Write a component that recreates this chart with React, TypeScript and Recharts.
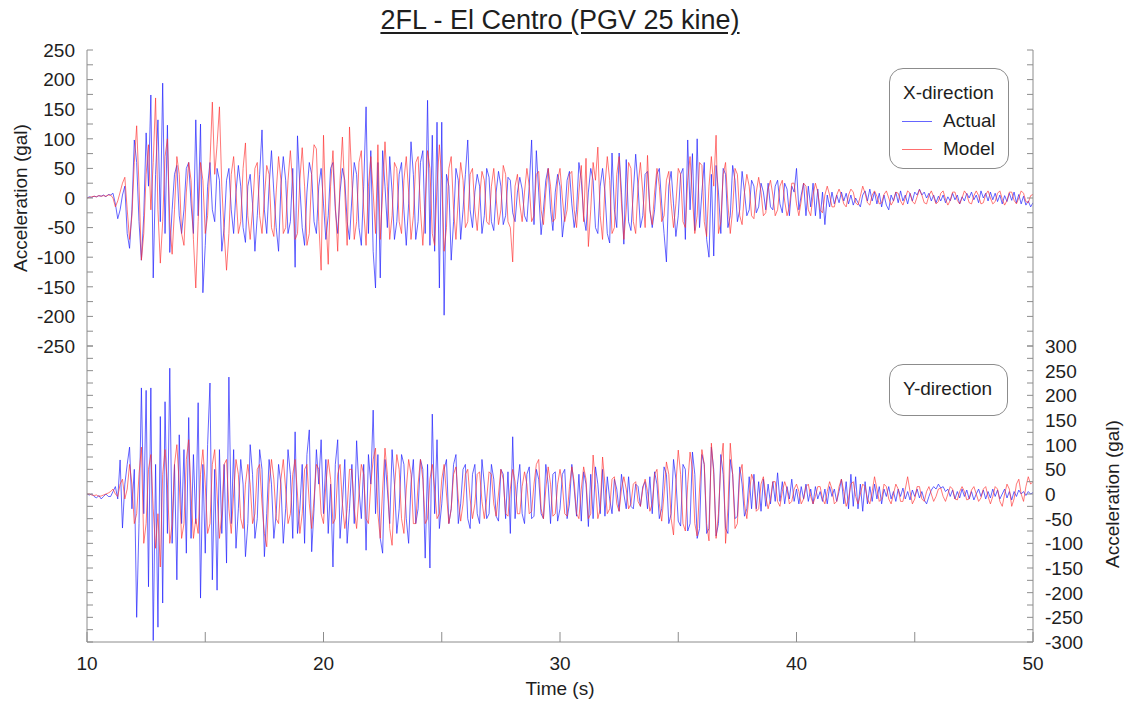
import { LineChart, Line, XAxis, YAxis, Legend } from 'recharts';

// sampled every 0.1 s from 10.0 s to 50.0 s, values in gal
const T_START = 10;
const T_STEP = 0.1;

const xActual = [
  0, 2, 1, 3, 2, 4, 3, 5, 2, 6,
  5, 8, -10, -35, -20, 5, 20, -60, -85, -20,
  98, 60, -40, -105, -30, 110, 20, 174, -135, 40,
  132, -40, 194, -60, 123, -92, -20, 40, 55, -30,
  -60, -20, 50, 60, -10, -60, 132, -30, 125, -160,
  -80, 20, 60, -20, -40, 50, 30, -90, -50, 30,
  50, -20, -60, 10, 55, 20, -50, -75, 20, 40,
  -10, -90, -30, 40, 115, -20, -60, 20, 80, 10,
  -50, -90, 20, 70, 30, -60, -40, 50, -117, 105,
  20, -50, -80, 10, 60, 40, -40, -60, 20, 50,
  -10, -70, -30, 50, 60, -20, -60, 10, 50, 30,
  -40, -70, 0, 60, 40, -50, -80, 20, 154, -60,
  80, -90, -152, 60, -135, 80, 20, -50, 70, 10,
  -70, -40, 40, 60, -20, -80, -10, 95, 40, -70,
  -40, 60, 80, -60, 165, -80, 106, -90, 128, -152,
  128, -198, 40, 20, -105, -40, 50, 30, -70, -20,
  40, 98, -20, -50, 10, 40, 20, -60, -30, 50,
  35, -40, -55, 10, 45, 20, -45, -30, 35, 30,
  -25, -40, 10, 35, 15, -30, -40, 20, 98, -45,
  80, 10, -62, -20, 30, 50, -20, -55, 10, 40,
  20, -66, -30, 30, 45, -10, -50, -20, 60, 30,
  -30, -55, 10, 50, 30, -50, -60, 20, 50, 10,
  -60, -76, 76, -20, -50, 76, 10, -78, 65, -40,
  -55, 10, 74, 20, -50, -30, 40, 45, -20, -50,
  -20, 40, 50, -10, -60, -108, 20, 45, -10, -65,
  -30, 40, 50, -70, 98, -20, 75, -55, 100, -50,
  10, 60, -70, -100, 40, -98, 55, 10, -60, 50,
  40, -50, -30, 55, 30, -40, -20, 45, 10, -30,
  -20, 30, 20, -25, -15, 25, 10, -20, 25, -15,
  -20, 20, 30, -10, -25, 25, 15, -30, 20, 10,
  50, -20, 5, 25, -30, 20, -15, 25, -30, 15,
  -35, 10, -45, 5, -15, 10, -10, 5, -8, 10,
  -5, 8, -10, 5, -12, 0, -8, -15, 5, 12,
  -5, 15, -5, 10, -10, 8, -15, 5, -12, -20,
  5, -5, 10, -8, 12, -5, 5, -10, 8, -5,
  10, 5, 15, 5, 10, 0, 8, -5, 5, -8,
  3, -5, 5, -8, 2, -5, 8, -3, 5, -10,
  2, -5, 8, 0, 10, -3, 5, -8, 12, 0,
  8, -5, 10, -3, 8, -6, 5, -10, 4, -6,
  8, -4, 10, -8, 6, -10, 3, -12, -5, -15,
  -8,
];

const xModel = [
  0, 1, 2, 3, 2, 4, 3, 4, 3, 5,
  5, 0, -15, -5, 10, 25, 35, -20, -70, -30,
  60, 122, 20, -105, -60, 40, 90, -20, 60, 169,
  -20, -110, -40, 70, 100, -40, -95, -20, 70, 40,
  -60, -80, 10, 60, 30, -70, -152, -40, 60, 30,
  -60, -30, 60, 162, 40, 90, 154, 20, -60, -122,
  -60, 40, 70, 10, -60, -40, 50, 93, -30, -70,
  -20, 50, 60, -30, -60, 0, 55, 40, -50, -65,
  10, 70, 30, -60, -50, 30, 80, 20, -70, -60,
  30, 85, 20, -80, -60, 40, 90, 83, -40, -122,
  106, -30, -112, 20, 80, -10, -90, 30, 103, 10,
  -80, 120, 30, -70, -40, 60, 80, -20, -80, 20,
  70, 10, -60, 90, -70, 10, 95, 20, -70, -30,
  60, 50, -40, -60, 30, 70, 10, -70, -30, 60,
  70, -20, -80, -10, 80, 50, -60, -80, 20, 90,
  30, -90, -50, 50, 70, -20, -70, 0, 60, 30,
  -50, -40, 40, 50, -20, -55, 0, 45, 30, -40,
  -45, 20, 50, 0, -45, -20, 55, 40, -40, -50,
  -108, 20, 40, -10, -40, 10, 50, 20, -40, -30,
  40, 45, -20, -45, 10, 50, 20, -40, -35, 30,
  50, 0, -40, -20, 40, 45, -20, -50, 10, 55,
  -40, 67, -82, -20, 60, 30, 86, -30, -70, 20,
  70, 30, -60, -50, 40, 70, -10, -70, -20, 60,
  50, -40, -60, 20, 60, 10, -50, 72, -20, -45,
  10, 50, 20, -40, -30, 30, 45, -10, -50, -10,
  50, 40, -40, -50, 30, 70, 0, -60, -30, 60,
  55, -40, -65, 20, 70, 20, 106, -60, -40, 40,
  60, -10, -60, -20, 50, 40, -30, -45, 10, 40,
  20, -30, -35, 10, 35, 10, -30, -25, 15, 30,
  5, -30, -20, 20, 30, -5, -30, -15, 25, 25,
  -10, -30, -5, 25, 20, -20, -30, 5, 25, 10,
  -20, -25, 5, 20, 5, -15, -15, 5, 15, 5,
  -10, -15, 5, 15, 10, -8, -12, 3, 20, 8,
  -8, -12, 5, 12, 3, -10, -8, 6, 12, 0,
  -12, -5, 10, 8, -5, -12, 0, 12, 8, -6,
  -10, 2, 14, 5, -8, -10, 4, 12, 2, -10,
  -6, 8, 12, -2, -12, -4, 10, 10, -4, -10,
  0, 12, 6, -8, -10, 4, 12, 4, -10, -8,
  6, 12, 0, -10, -6, 8, 12, -2, -12, -4,
  10, 10, -4, -10, 0, 12, 8, -6, -8, 4,
  6,
];

const yActual = [
  0, -2, 0, -5, -8, -3, -10, -5, 0, -5,
  -5, 5, 15, -10, 69, -69, 20, 60, 95, -30,
  50, -250, -60, 215, -40, 210, -188, 215, -297, 60,
  -270, 157, -221, 187, -80, 255, -100, 60, -174, 120,
  -60, 90, -120, 155, -90, 80, -60, 185, -211, 60,
  -120, 100, 225, -174, 50, -195, 90, -80, 60, -140,
  237, -60, 90, -110, -30, 70, 20, -127, -60, 100,
  40, -90, -50, 90, 50, -127, -40, 70, 20, -90,
  -40, 60, 20, -100, -30, 90, 40, -90, 126, -80,
  -30, 60, -100, 80, 130, -117, -30, 90, 20, 110,
  -40, 70, -80, 20, -148, 60, 110, -90, -20, 70,
  -100, -30, 60, -60, 108, 10, -50, 60, -114, 80,
  20, 170, -40, 80, -90, -120, 70, 10, -60, 90,
  20, -80, -30, 80, 60, -50, -100, 20, 70, -60,
  -30, 70, 50, -130, 60, -150, 162, -40, 110, -70,
  -20, 50, 70, -60, -30, 60, 80, -60, -20, 50,
  60, -50, -70, 40, 60, -40, -60, 70, 20, -50,
  -40, 60, 30, -45, -55, 50, 40, -50, 45, -80,
  116, -50, 20, 60, -40, -60, 40, 55, -50, -45,
  50, 30, -40, -50, 60, 20, -60, 40, 45, -55,
  -30, 40, 50, -50, -20, 60, 10, -45, 40, -55,
  45, 20, -66, 40, -50, 55, 20, -40, 50, -45,
  35, -10, -40, 30, 10, -35, 40, 0, -30, 35,
  -25, -30, 20, 15, -25, 15, 25, -30, 35, -40,
  45, 20, -50, -30, 55, 40, -60, -40, 70, 30,
  -55, -65, 60, 50, -75, -60, 85, 40, -90, -70,
  80, 60, -80, -70, 95, 50, -85, -60, 80, 40,
  -70, -80, 70, 40, -50, -45, 55, 20, -45, -30,
  35, -30, 40, -30, 25, -35, 30, -25, 20, -20,
  25, -15, 43, -15, 25, -20, 15, -10, 30, -15,
  10, -20, 15, -10, 20, -15, 10, -20, 15, -10,
  5, -15, 10, -20, 15, -5, 10, -15, 5, 30,
  -20, 25, -30, 40, -25, 35, -30, 20, -35, 25,
  -20, 15, -15, 20, -10, 15, -20, 10, -5, 15,
  -10, 5, -15, 10, -5, 12, -10, 5, -12, 8,
  -5, 10, -8, 5, -12, -20, -5, 8, 15, 10,
  20, 12, 15, 5, 10, -5, 8, -10, 5, -8,
  10, -5, 8, -10, 5, -12, 0, 10, -5, 8,
  -10, 5, -8, 10, -5, 8, -10, 0, 10, -8,
  5, -12, 5, -5, 8, 0, 5, -3, 5, 0,
  3,
];

const yModel = [
  0, 0, -2, -3, -2, -5, -4, -2, 0, 2,
  5, 10, 0, -5, 20, 30, -10, 10, 60, 20,
  -60, -40, 40, 95, -100, -60, 50, 80, -30, -110,
  -40, -148, 40, 90, 20, -100, -60, 60, 100, 20,
  -90, -60, 70, 110, 0, -90, -50, -80, 40, 90,
  20, -80, -60, 60, 90, 0, -90, -40, 60, 70,
  -30, -80, 0, 70, 40, -50, -70, 20, 60, 20,
  -60, -40, 50, 60, -20, -80, -107, 20, 70, 30,
  -50, -60, 30, 70, 10, -60, -40, 40, 70, 0,
  -80, -40, 50, 60, -20, -70, -10, 60, 50, -40,
  -60, 20, 70, 30, -60, -50, 40, 60, -20, -70,
  -30, 50, 50, -30, -70, 0, 60, 40, -50, -60,
  20, 70, 93, -40, -90, 10, 93, 40, -70, -104,
  10, 80, 50, -50, -80, 10, 70, 40, -60, -60,
  20, 70, 30, -60, -50, 30, 60, 10, -50, -40,
  30, 60, 0, -60, -30, 40, 55, -10, -55, -20,
  40, 50, -10, -50, -20, 40, 45, -15, -50, -10,
  45, 40, -20, -45, 0, 50, 30, -40, -45, 10,
  50, 25, -40, -40, 15, 45, 20, -40, -35, 20,
  60, 70, -30, -50, 10, 55, 20, -45, -40, 20,
  50, 20, -40, -45, 15, 55, 25, -40, -50, 10,
  55, 30, -50, -40, 79, 20, -50, -30, 75, 20,
  -40, -30, 30, 35, -20, -35, 10, 35, 10, -30,
  -20, 20, 25, -15, -25, 10, 30, 5, -35, -20,
  40, 50, -20, -55, 0, 65, 40, -50, -83, 20,
  89, 40, -60, -75, 20, 85, 50, -60, -85, 10,
  90, 60, -60, -95, 103, 40, -90, -40, 60, 103,
  -100, -30, 103, 40, -70, -60, 40, 60, -20, -50,
  0, 40, 25, -35, -30, 20, 35, -5, -30, -10,
  25, 25, -15, -25, 5, 25, 10, -20, -15, 10,
  20, 5, -20, -10, 15, 20, -5, -20, -5, 15,
  15, -10, -20, 5, 25, 10, -20, -15, 15, 30,
  5, -25, -10, 20, 25, -5, -20, 0, 20, 15,
  -10, -20, 5, 35, 10, -15, -10, 20, 15, -10,
  -20, 0, 20, 10, -15, -15, 10, 35, 5, -20,
  -10, 15, 15, -10, -15, 5, 15, 0, -15, -5,
  10, 12, -5, -15, 0, 15, 10, -10, -12, 5,
  15, 5, -12, -10, 8, 15, 0, -15, -8, 10,
  15, -5, -20, -5, 15, 10, -15, -25, 0, 20,
  10, -25, -10, 20, 30, 0, -15, 15, 35, 20,
  25,
];

const timeTicks = [10, 15, 20, 25, 30, 35, 40, 45, 50];
const xAccTicks = [
  -250, -225, -200, -175, -150, -125, -100, -75, -50, -25, 0,
  25, 50, 75, 100, 125, 150, 175, 200, 225, 250,
];
const yAccTicks = [
  -300, -275, -250, -225, -200, -175, -150, -125, -100, -75, -50, -25, 0,
  25, 50, 75, 100, 125, 150, 175, 200, 225, 250, 275, 300,
];

const topData = xActual.map((v, i) => ({
  t: +(T_START + i * T_STEP).toFixed(1),
  actual: v,
  model: xModel[i],
}));
const bottomData = yActual.map((v, i) => ({
  t: +(T_START + i * T_STEP).toFixed(1),
  actual: v,
  model: yModel[i],
}));

const FONT = '"Liberation Sans", Arial, Helvetica, sans-serif';
const GREY = '#8c8c8c';
const INK = '#1e1e1e';
const BLUE = '#2323ff';
const RED = '#ff3030';
const GAP = 10; // tickMargin, lets the tick renderer find its axis line again

type Side = 'left' | 'right' | 'top' | 'bottom';

// recharts draws ticks outside the frame; this one draws them inside
function innerTick(side: Side, len: number, labelStep: number) {
  return function Tick(props: any) {
    const { x, y, payload } = props;
    const v = payload.value as number;
    const labelled = labelStep > 0 && Math.abs(v % labelStep) < 1e-6;
    const txt = { fontFamily: FONT, fontSize: 19, fill: INK };
    if (side === 'left') {
      const ax = x + GAP;
      return (
        <g>
          <line x1={ax} x2={ax + len} y1={y} y2={y} stroke={GREY} />
          {labelled && (
            <text x={ax - 12} y={y} dy="0.36em" textAnchor="end" {...txt}>{v}</text>
          )}
        </g>
      );
    }
    if (side === 'right') {
      const ax = x - GAP;
      return (
        <g>
          <line x1={ax} x2={ax - len} y1={y} y2={y} stroke={GREY} />
          {labelled && (
            <text x={ax + 12} y={y} dy="0.36em" textAnchor="start" {...txt}>{v}</text>
          )}
        </g>
      );
    }
    if (side === 'top') {
      const ay = y + GAP;
      return <line x1={x} x2={x} y1={ay} y2={ay + len} stroke={GREY} />;
    }
    const ay = y - GAP;
    return (
      <g>
        <line x1={x} x2={x} y1={ay} y2={ay - len} stroke={GREY} />
        {labelled && (
          <text x={x} y={ay + 21} dy="0.36em" textAnchor="middle" {...txt}>{v}</text>
        )}
      </g>
    );
  };
}

function vLabel(dx: number, text: string) {
  return function VLabel({ viewBox }: any) {
    const cx = viewBox.x + dx;
    const cy = viewBox.y + viewBox.height / 2;
    return (
      <text
        x={0}
        y={0}
        transform={`translate(${cx}, ${cy}) rotate(-90)`}
        textAnchor="middle"
        dy="0.36em"
        fontFamily={FONT}
        fontSize={19}
        fill={INK}
      >
        {text}
      </text>
    );
  };
}

function TimeLabel({ viewBox }: any) {
  return (
    <text
      x={viewBox.x + viewBox.width / 2}
      y={viewBox.y + 46}
      dy="0.36em"
      textAnchor="middle"
      fontFamily={FONT}
      fontSize={19}
      fill={INK}
    >
      Time (s)
    </text>
  );
}

const boxStyle = {
  boxSizing: 'border-box' as const,
  border: `1px solid ${GREY}`,
  borderRadius: 14,
  background: '#fff',
  fontFamily: FONT,
  fontSize: 19,
  lineHeight: '28px',
  color: INK,
  paddingLeft: 12,
};

function XLegend() {
  const row = (color: string, name: string) => (
    <div style={{ display: 'flex', alignItems: 'center' }}>
      <span style={{ display: 'inline-block', width: 30, height: 0, borderTop: `1px solid ${color}`, opacity: 0.7 }} />
      <span style={{ marginLeft: 11 }}>{name}</span>
    </div>
  );
  return (
    <div style={{ ...boxStyle, height: 101, paddingTop: 10 }}>
      <div style={{ paddingLeft: 1 }}>X-direction</div>
      {row(BLUE, 'Actual')}
      {row(RED, 'Model')}
    </div>
  );
}

function YLegend() {
  return (
    <div style={{ ...boxStyle, height: 52, paddingTop: 10 }}>
      <div style={{ paddingLeft: 1 }}>Y-direction</div>
    </div>
  );
}

function axisCommon() {
  return {
    type: 'number' as const,
    dataKey: 't',
    domain: [10, 50],
    ticks: timeTicks,
    interval: 0 as const,
    tickSize: 0,
    tickMargin: GAP,
    tickLine: false,
    axisLine: { stroke: GREY },
    allowDataOverflow: true,
    height: 0,
  };
}

function yCommon(domain: number[], ticks: number[]) {
  return {
    type: 'number' as const,
    domain,
    ticks,
    interval: 0 as const,
    tickSize: 0,
    tickMargin: GAP,
    tickLine: false,
    axisLine: { stroke: GREY },
    allowDataOverflow: true,
  };
}

export default function App() {
  return (
    <div
      style={{
        position: 'relative',
        width: 1126,
        height: 701,
        background: '#fff',
        overflow: 'hidden',
        fontFamily: FONT,
      }}
    >
      <style>{'body{margin:0;}'}</style>
      <div
        style={{
          position: 'absolute',
          left: 87,
          width: 946,
          top: 5,
          textAlign: 'center',
          fontSize: 27,
          color: INK,
          textDecoration: 'underline',
          textUnderlineOffset: 3,
        }}
      >
        2FL - El Centro (PGV 25 kine)
      </div>

      <div style={{ position: 'absolute', left: 0, top: 0 }}>
        <LineChart width={1126} height={356} data={topData} margin={{ top: 50, right: 0, bottom: 10, left: 0 }}>
          <XAxis xAxisId="top" orientation="top" {...axisCommon()} tick={innerTick('top', 10, 0)} />
          <XAxis xAxisId="bottom" orientation="bottom" {...axisCommon()} tick={innerTick('bottom', 10, 0)} />
          <YAxis
            yAxisId="left"
            orientation="left"
            width={87}
            {...yCommon([-250, 250], xAccTicks)}
            tick={innerTick('left', 6, 50)}
            label={vLabel(20, 'Acceleration (gal)')}
          />
          <YAxis
            yAxisId="right"
            orientation="right"
            width={93}
            {...yCommon([-250, 250], xAccTicks)}
            tick={innerTick('right', 6, 0)}
          />
          <Legend
            layout="vertical"
            align="center"
            verticalAlign="middle"
            wrapperStyle={{ left: 889, top: 68, width: 120 }}
            content={() => <XLegend />}
          />
          <Line
            xAxisId="top"
            yAxisId="right"
            dataKey="actual"
            name="Actual"
            type="linear"
            stroke={BLUE}
            strokeOpacity={0.7}
            strokeWidth={1}
            dot={false}
            isAnimationActive={false}
          />
          <Line
            xAxisId="bottom"
            yAxisId="left"
            dataKey="model"
            name="Model"
            type="linear"
            stroke={RED}
            strokeOpacity={0.65}
            strokeWidth={1}
            dot={false}
            isAnimationActive={false}
          />
        </LineChart>
      </div>

      <div style={{ position: 'absolute', left: 0, top: 336 }}>
        <LineChart width={1126} height={365} data={bottomData} margin={{ top: 10, right: 0, bottom: 0, left: 0 }}>
          <XAxis xAxisId="top" orientation="top" {...axisCommon()} tick={innerTick('top', 10, 0)} />
          <XAxis
            xAxisId="bottom"
            orientation="bottom"
            {...axisCommon()}
            height={59}
            tick={innerTick('bottom', 10, 10)}
            label={TimeLabel}
          />
          <YAxis
            yAxisId="left"
            orientation="left"
            width={87}
            {...yCommon([-300, 300], yAccTicks)}
            tick={innerTick('left', 6, 0)}
          />
          <YAxis
            yAxisId="right"
            orientation="right"
            width={93}
            {...yCommon([-300, 300], yAccTicks)}
            tick={innerTick('right', 6, 50)}
            label={vLabel(79, 'Acceleration (gal)')}
          />
          <Legend
            layout="vertical"
            align="center"
            verticalAlign="middle"
            wrapperStyle={{ left: 889, top: 28, width: 119 }}
            content={() => <YLegend />}
          />
          <Line
            xAxisId="top"
            yAxisId="right"
            dataKey="actual"
            name="Actual"
            type="linear"
            stroke={BLUE}
            strokeOpacity={0.7}
            strokeWidth={1}
            dot={false}
            isAnimationActive={false}
          />
          <Line
            xAxisId="bottom"
            yAxisId="left"
            dataKey="model"
            name="Model"
            type="linear"
            stroke={RED}
            strokeOpacity={0.65}
            strokeWidth={1}
            dot={false}
            isAnimationActive={false}
          />
        </LineChart>
      </div>
    </div>
  );
}
